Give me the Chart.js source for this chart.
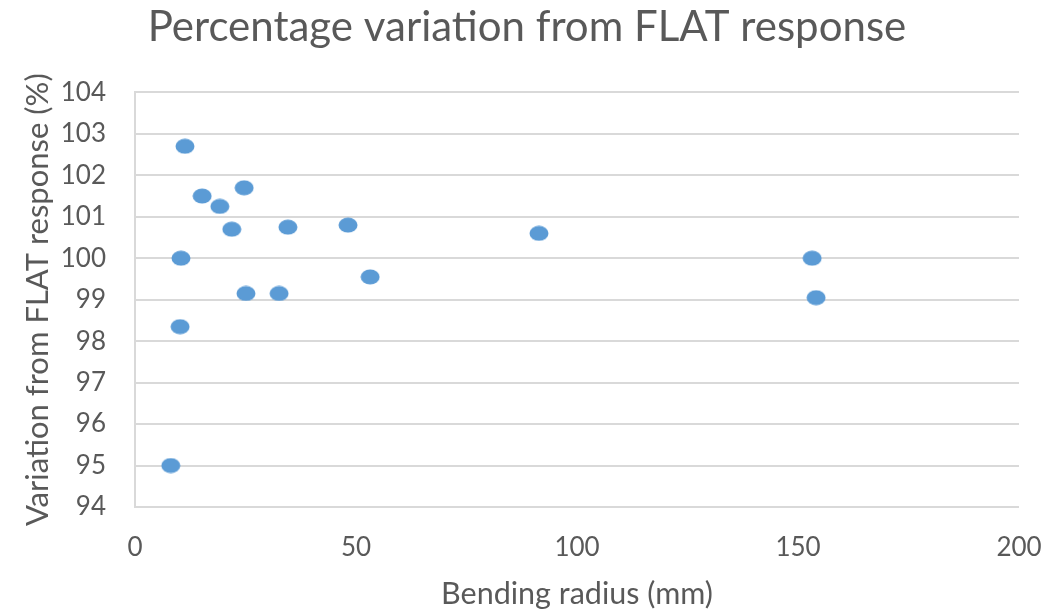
<!DOCTYPE html>
<html>
<head>
<meta charset="utf-8">
<title>Percentage variation from FLAT response</title>
<script src="https://cdn.jsdelivr.net/npm/chart.js@4/dist/chart.umd.min.js"></script>
<style>
  html, body { margin: 0; padding: 0; background: #fff; }
  #wrap { position: relative; width: 1054px; height: 609px; }
</style>
</head>
<body>
<div id="wrap"><canvas id="chart"></canvas></div>
<script>
  // Bending radius (mm) and the measured variation from the flat response (%)
  var radius    = [11.3, 15.2, 19.2, 24.7, 21.9, 34.6, 48.2, 91.4, 10.4, 10.2, 8.1, 25.1, 32.6, 53.2, 153.2, 154.1];
  var variation = [102.7, 101.5, 101.25, 101.7, 100.7, 100.75, 100.8, 100.6, 100.0, 98.35, 95.0, 99.15, 99.15, 99.55, 100.0, 99.05];

  var xTicks = [0, 50, 100, 150, 200];
  var yTicks = [94, 95, 96, 97, 98, 99, 100, 101, 102, 103, 104];

  var TEXT = "#595959";
  var GRID = "#d9d9d9";
  var DOT = "#5b9bd5";
  var FONT = "Lato, 'Open Sans', sans-serif";

  // slightly wide oval marker
  function ovalMarker(w, h) {
    var c = document.createElement("canvas");
    c.width = w; c.height = h;
    var g = c.getContext("2d");
    g.fillStyle = DOT;
    g.beginPath();
    g.ellipse(w / 2, h / 2, w / 2 - 0.5, h / 2 - 0.5, 0, 0, Math.PI * 2);
    g.fill();
    return c;
  }

  var points = radius.map(function (r, i) { return { x: r, y: variation[i] }; });

  new Chart(document.getElementById("chart"), {
    type: "scatter",
    data: {
      datasets: [{
        label: "Variation",
        data: points,
        pointStyle: ovalMarker(20, 16),
        backgroundColor: DOT,
        borderColor: DOT
      }]
    },
    options: {
      responsive: true, maintainAspectRatio: false, animation: false,
      layout: { padding: 0 },
      plugins: {
        legend: { display: false },
        tooltip: { enabled: false },
        title: {
          display: true,
          text: "Percentage variation from FLAT response",
          color: TEXT,
          font: { family: FONT, size: 42, weight: "normal", lineHeight: 1.2 },
          padding: { top: 2, bottom: 40 }
        }
      },
      scales: {
        x: {
          type: "linear", min: 0, max: 200,
          afterBuildTicks: function (s) { s.ticks = xTicks.map(function (v) { return { value: v }; }); },
          // fixed axis band; right inset comes from the axis so the title stays centred on the canvas
          afterFit: function (s) { s.height = 102; s.paddingLeft = 0; s.paddingRight = 35; },
          grid: { display: false, drawTicks: false },
          border: { display: false },
          ticks: { color: TEXT, padding: 25, font: { family: FONT, size: 26 } },
          title: {
            display: true, text: "Bending radius (mm)", color: TEXT,
            font: { family: FONT, size: 30.5, lineHeight: 1 },
            padding: { top: 0, bottom: 0 }
          }
        },
        y: {
          type: "linear", min: 94, max: 104,
          afterBuildTicks: function (s) { s.ticks = yTicks.map(function (v) { return { value: v }; }); },
          afterFit: function (s) { s.width = 135; },
          grid: { color: GRID, lineWidth: 2, drawTicks: false },
          border: { display: true, color: GRID, width: 2 },
          ticks: { color: TEXT, padding: 29, font: { family: FONT, size: 26 } },
          title: {
            display: true, text: "Variation from FLAT response (%)", color: TEXT,
            font: { family: FONT, size: 31, lineHeight: 1 },
            padding: { top: 22, bottom: 0 }
          }
        }
      }
    }
  });
</script>
</body>
</html>
